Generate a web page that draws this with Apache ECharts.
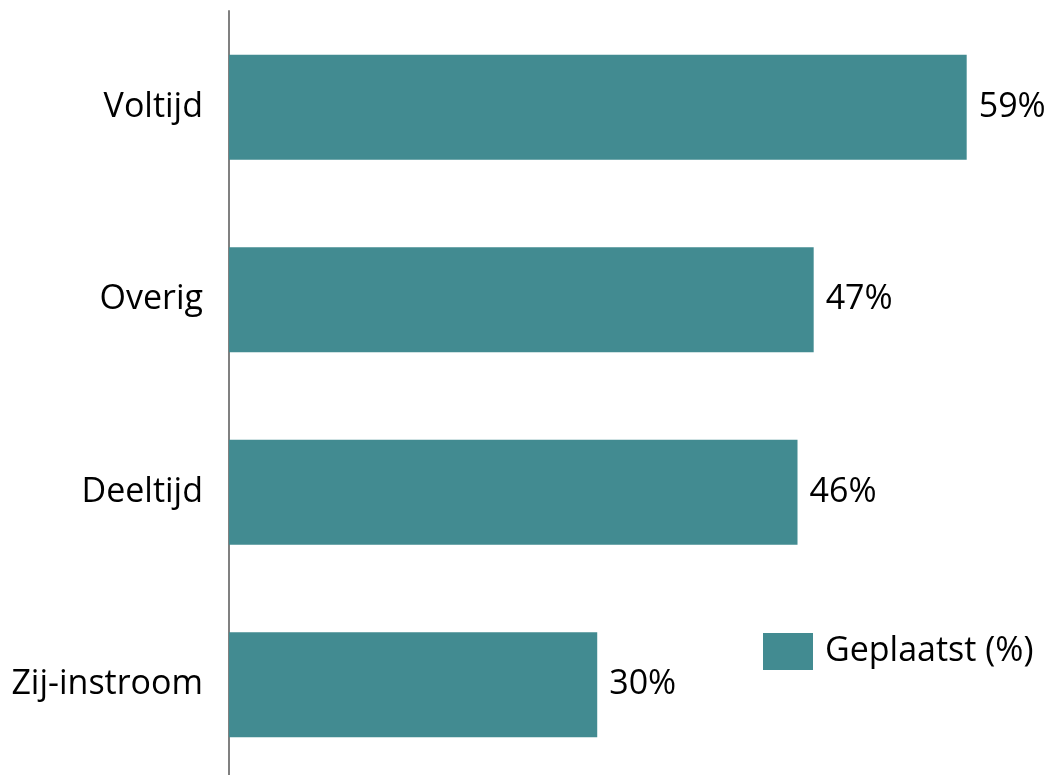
<!DOCTYPE html>
<html>
<head>
<meta charset="utf-8">
<script src="https://cdn.jsdelivr.net/npm/echarts@6/dist/echarts.min.js"></script>
<style>html,body{margin:0;padding:0;background:#fff;}#c{width:1051px;height:775px;}</style>
</head>
<body>
<div id="c"></div>
<script>
const categories = ['Voltijd', 'Overig', 'Deeltijd', 'Zij-instroom'];
const seriesName = 'Geplaatst (%)';
const values = [59.3, 47.0, 45.7, 29.6];

const chart = echarts.init(document.getElementById('c'), null, {renderer: 'canvas'});
const FONT = 'Open Sans';
chart.setOption({
  animation: false,
  backgroundColor: '#ffffff',
  grid: {left: 229, top: 11, width: 808.6, height: 770, containLabel: false, outerBoundsMode: 'none'},
  legend: {
    show: true,
    left: 758, top: 628,
    itemWidth: 50, itemHeight: 37, itemGap: 10,
    icon: 'rect',
    textStyle: {fontFamily: FONT, fontSize: 34, color: '#000', padding: [0, 0, 0, 7]},
    data: [seriesName]
  },
  xAxis: {
    type: 'value', min: 0, max: 65, show: false
  },
  yAxis: {
    type: 'category', inverse: true, data: categories,
    axisLine: {show: true, lineStyle: {color: '#808080', width: 2}},
    axisTick: {show: false},
    axisLabel: {fontFamily: FONT, fontSize: 34, color: '#000', margin: 26},
    splitLine: {show: false}
  },
  series: [{
    name: seriesName,
    type: 'bar',
    data: values,
    barCategoryGap: '45.5%',
    itemStyle: {color: '#428B91'},
    label: {
      show: true, position: 'right', distance: 12,
      fontFamily: FONT, fontSize: 34, color: '#000',
      formatter: p => Math.round(p.value) + '%'
    }
  }]
});
</script>
</body>
</html>
